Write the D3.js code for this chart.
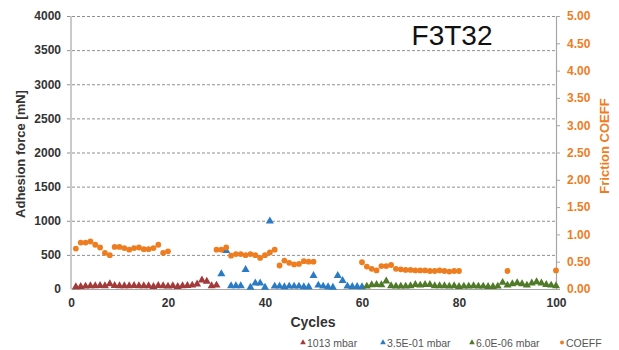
<!DOCTYPE html>
<html>
<head>
<meta charset="utf-8">
<script src="https://cdn.jsdelivr.net/npm/d3@7"></script>
<style>
  html, body { margin: 0; padding: 0; background: #fff; }
  svg { display: block; font-family: "Liberation Sans", Arial, sans-serif; }
</style>
</head>
<body>
<svg id="chart" width="619" height="350"></svg>
<script>
"use strict";

/* ── Data ──────────────────────────────────────────────── */
const atmCycles = d3.range(1, 31);
const atmForce  = [15, 20, 25, 30, 30, 35, 30, 60, 35, 30, 30, 30, 35, 30, 30,
                   30, 20, 35, 30, 25, 30, 20, 30, 35, 40, 55, 115, 95, 30, 40];

const lowCycles = d3.range(31, 61);
const lowForce  = [205, 545, 30, 30, 30, 268, 10, 72, 70, 10, 980, 25, 25, 15, 25,
                   25, 25, 15, 15, 180, 40, 25, 15, 10, 180, 107, 25, 20, 20, 15];

const vacCycles = d3.range(61, 101);
const vacForce  = [25, 45, 50, 45, 100, 30, 25, 25, 25, 30, 50, 40, 50, 50, 30,
                   30, 30, 25, 30, 20, 25, 25, 30, 25, 25, 20, 20, 25, 80, 40,
                   60, 75, 60, 40, 70, 90, 70, 50, 40, 30];

const coeffCycles = [1, 2, 3, 4, 5, 6, 7, 8, 9, 10, 11, 12, 13, 14, 15, 16, 17, 18, 19, 20,
                     30, 31, 32, 33, 34, 35, 36, 37, 38, 39, 40, 41, 42, 43, 44, 45, 46, 47, 48, 49, 50,
                     60, 61, 62, 63, 64, 65, 66, 67, 68, 69, 70, 71, 72, 73, 74, 75, 76, 77, 78, 79, 80,
                     90, 100];
const coeffVals   = [0.74, 0.85, 0.85, 0.87, 0.81, 0.76, 0.66, 0.62, 0.77, 0.77, 0.75, 0.72, 0.75, 0.76, 0.73, 0.73, 0.75, 0.81, 0.66, 0.69,
                     0.72, 0.72, 0.76, 0.61, 0.64, 0.64, 0.62, 0.64, 0.62, 0.57, 0.62, 0.67, 0.72, 0.43, 0.52, 0.48, 0.45, 0.46, 0.51, 0.50, 0.50,
                     0.49, 0.41, 0.37, 0.34, 0.42, 0.42, 0.44, 0.37, 0.36, 0.35, 0.35, 0.34, 0.34, 0.34, 0.33, 0.33, 0.34, 0.33, 0.32, 0.33, 0.33,
                     0.33, 0.34];

const leftTicks  = [0, 500, 1000, 1500, 2000, 2500, 3000, 3500, 4000];
const rightTicks = [0, 0.5, 1, 1.5, 2, 2.5, 3, 3.5, 4, 4.5, 5];
const xTicks     = [0, 20, 40, 60, 80, 100];

const seriesNames = ["1013 mbar", "3.5E-01 mbar", "6.0E-06 mbar", "COEFF"];

/* ── Layout ────────────────────────────────────────────── */
const PLOT = { left: 71, right: 556, top: 16, bottom: 289 };
const COL = { atm: "#a33a3a", low: "#2a7bc4", vac: "#4f7a28", coeff: "#ee7d1f",
              grid: "#8f8f8f", axis: "#a6a6a6", text: "#333" };

const svg = d3.select("#chart");

const x  = d3.scaleLinear().domain([0, 100]).range([PLOT.left, PLOT.right]);
const yL = d3.scaleLinear().domain([0, 4000]).range([PLOT.bottom, PLOT.top]);
const yR = d3.scaleLinear().domain([0, 5]).range([PLOT.bottom, PLOT.top]);

/* gridlines (dashed), extend a little left as ticks */
svg.append("g")
  .attr("transform", `translate(${PLOT.left},0)`)
  .call(d3.axisLeft(yL).tickValues(leftTicks.slice(1)).tickSize(-(PLOT.right - PLOT.left)).tickFormat(""))
  .call(a => {
    a.select(".domain").remove();
    a.selectAll("line").attr("x1", -4).attr("stroke", COL.grid)
      .attr("stroke-dasharray", "3,2").attr("stroke-width", 1);
  });

/* left axis labels */
svg.append("g")
  .attr("transform", `translate(${PLOT.left},0)`)
  .call(d3.axisLeft(yL).tickValues(leftTicks).tickSize(0).tickPadding(10).tickFormat(d3.format("d")))
  .call(a => {
    a.select(".domain").remove();
    a.selectAll("text").attr("font-size", 12).attr("font-weight", "bold")
      .attr("fill", COL.text).attr("font-family", "Liberation Sans, Arial, sans-serif");
  });
svg.append("line")
  .attr("x1", PLOT.left).attr("x2", PLOT.left)
  .attr("y1", PLOT.top).attr("y2", PLOT.bottom)
  .attr("stroke", COL.axis).attr("stroke-width", 1.2);

/* right axis */
svg.append("g")
  .attr("transform", `translate(${PLOT.right},0)`)
  .call(d3.axisRight(yR).tickValues(rightTicks).tickSize(4).tickPadding(7).tickFormat(d3.format(".2f")))
  .call(a => {
    a.select(".domain").attr("stroke", COL.axis).attr("stroke-width", 1.2);
    a.selectAll("line").attr("stroke", COL.axis);
    a.selectAll("text").attr("font-size", 12).attr("font-weight", "bold")
      .attr("fill", COL.coeff).attr("font-family", "Liberation Sans, Arial, sans-serif");
  });

/* bottom axis */
svg.append("g")
  .attr("transform", `translate(0,${PLOT.bottom})`)
  .call(d3.axisBottom(x).tickValues(xTicks).tickSize(0).tickPadding(9))
  .call(a => {
    a.select(".domain").attr("stroke", COL.axis).attr("stroke-width", 1.2);
    a.selectAll("text").attr("font-size", 12).attr("font-weight", "bold")
      .attr("fill", COL.text).attr("font-family", "Liberation Sans, Arial, sans-serif");
  });

/* axis titles */
svg.append("text")
  .attr("transform", "translate(25,154) rotate(-90)")
  .attr("text-anchor", "middle")
  .attr("font-size", 13).attr("font-weight", "bold").attr("fill", COL.text)
  .text("Adhesion force [mN]");

svg.append("text")
  .attr("transform", "translate(609,146) rotate(-90)")
  .attr("text-anchor", "middle")
  .attr("font-size", 13).attr("font-weight", "bold").attr("fill", COL.coeff)
  .text("Friction COEFF");

svg.append("text")
  .attr("x", 313).attr("y", 327)
  .attr("text-anchor", "middle")
  .attr("font-size", 14).attr("font-weight", "bold").attr("fill", COL.text)
  .text("Cycles");

svg.append("text")
  .attr("x", 452).attr("y", 45)
  .attr("text-anchor", "middle")
  .attr("font-size", 28).attr("fill", "#111")
  .text("F3T32");

/* ── Marks ─────────────────────────────────────────────── */
const tri = d3.symbol().type(d3.symbolTriangle).size(28);

function drawTriangles(cycles, vals, color) {
  svg.append("g").selectAll("path")
    .data(cycles.map((c, i) => [c, vals[i]]))
    .join("path")
    .attr("d", tri)
    .attr("transform", d => `translate(${x(d[0])},${yL(d[1]) - 1})`)
    .attr("fill", color);
}

drawTriangles(atmCycles, atmForce, COL.atm);
drawTriangles(lowCycles, lowForce, COL.low);
drawTriangles(vacCycles, vacForce, COL.vac);

svg.append("g").selectAll("circle")
  .data(coeffCycles.map((c, i) => [c, coeffVals[i]]))
  .join("circle")
  .attr("cx", d => x(d[0]))
  .attr("cy", d => yR(d[1]))
  .attr("r", 2.9)
  .attr("fill", COL.coeff);

/* ── Legend ────────────────────────────────────────────── */
const legendX = [303, 383, 472, 562];
const legendCol = [COL.atm, COL.low, COL.vac, COL.coeff];
const lg = svg.append("g").attr("font-size", 10.5).attr("fill", "#555");
seriesNames.forEach((name, i) => {
  if (i < 3) {
    lg.append("path")
      .attr("d", d3.symbol().type(d3.symbolTriangle).size(14)())
      .attr("transform", `translate(${legendX[i]},342.5)`)
      .attr("fill", legendCol[i]);
  } else {
    lg.append("circle").attr("cx", legendX[i]).attr("cy", 342.5).attr("r", 2)
      .attr("fill", legendCol[i]);
  }
  lg.append("text")
    .attr("x", legendX[i] + 4).attr("y", 346.5)
    .text(name);
});
</script>
</body>
</html>
